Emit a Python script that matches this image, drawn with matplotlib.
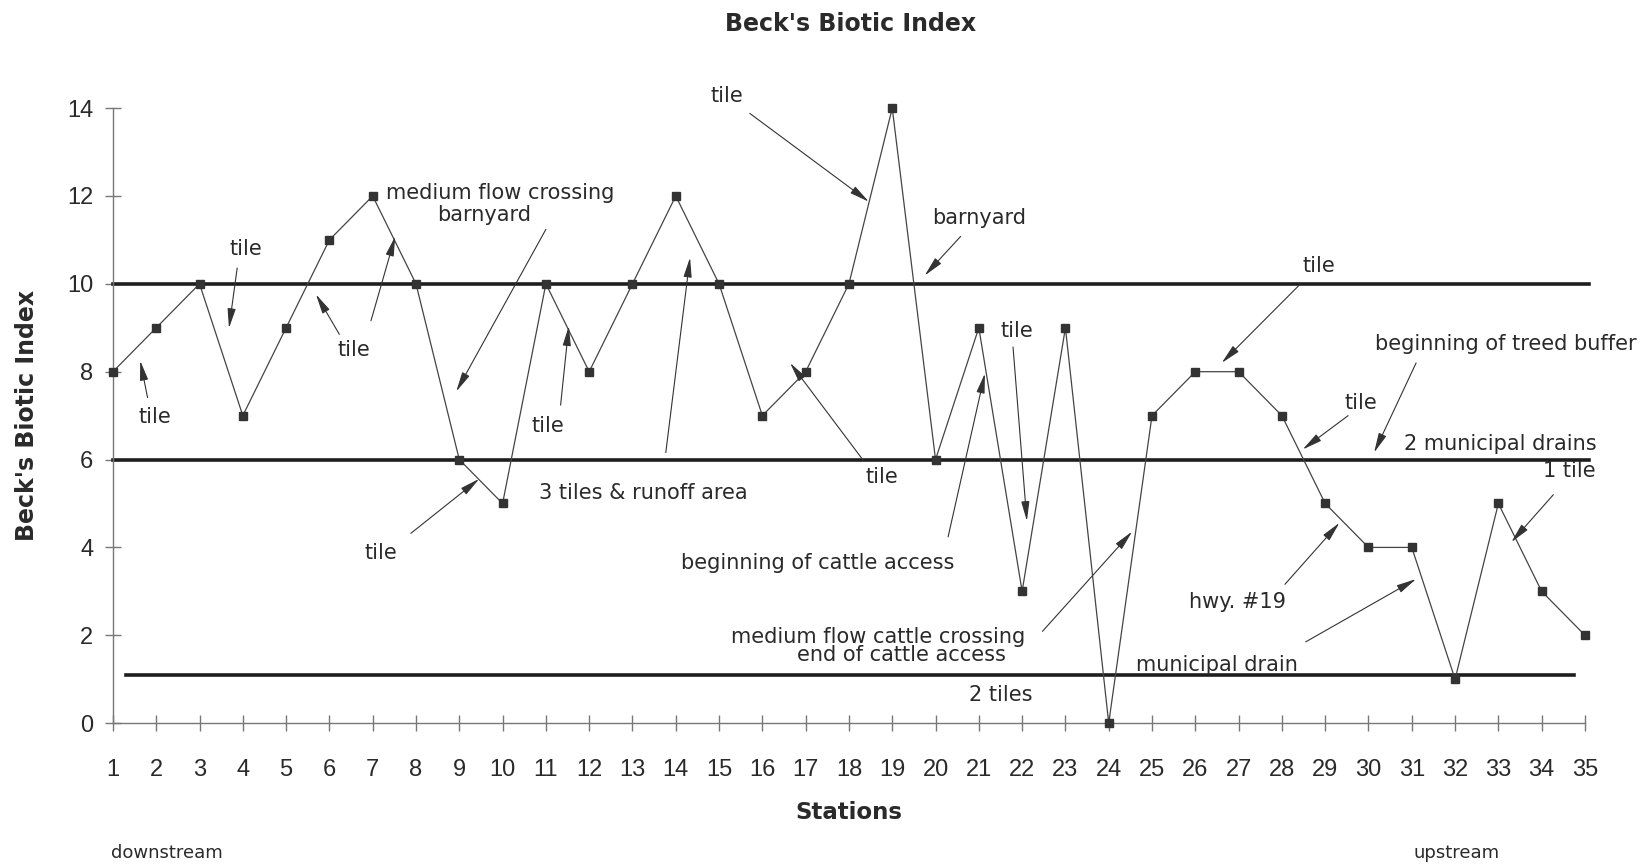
import matplotlib
matplotlib.use("Agg")
import matplotlib.pyplot as plt

# station values
stations = list(range(1, 36))
biotic_index = [8, 9, 10, 7, 9, 11, 12, 10, 6, 5, 10, 8, 10, 12, 10, 7, 8, 10, 14,
                6, 9, 3, 9, 0, 7, 8, 8, 7, 5, 4, 4, 1, 5, 3, 2]

# reference levels drawn as heavy lines: (level, x start, x end)
ref_levels = [10, 6, 1.1]
ref_starts = [1, 1, 1.3]
ref_ends = [35.1, 35.1, 34.75]

# labels placed on the plot: text, x, y, alignment
note_texts = ["tile", "tile", "tile", "medium flow crossing", "barnyard", "tile", "tile",
              "3 tiles & runoff area", "tile", "barnyard", "tile", "tile", "tile",
              "beginning of cattle access", "medium flow cattle crossing",
              "end of cattle access", "2 tiles", "municipal drain", "hwy. #19",
              "beginning of treed buffer", "tile", "2 municipal drains", "1 tile"]
note_x = [1.97, 4.06, 6.57, 7.3, 9.58, 7.2, 11.04, 13.26, 15.18, 21.01, 28.85, 21.87,
          18.75, 17.27, 18.68, 19.22, 21.5, 26.49, 26.97, 33.17, 29.82, 33.05, 34.63]
note_y = [6.98, 10.79, 8.49, 12.06, 11.56, 3.88, 6.76, 5.25, 14.27, 11.51, 10.41, 8.92,
          5.61, 3.64, 1.97, 1.56, 0.65, 1.32, 2.76, 8.63, 7.29, 6.35, 5.73]
note_ha = ["center", "center", "center", "left"] + ["center"] * 19

# arrows: tail -> head
arrow_tail_x = [1.80, 3.87, 6.23, 6.96, 11.0, 7.88, 11.34, 13.77, 15.71, 20.58, 28.43,
                21.79, 20.29, 18.34, 22.47, 28.55, 28.07, 31.1, 29.53, 34.27]
arrow_tail_y = [7.41, 10.36, 8.85, 9.16, 11.24, 4.32, 7.24, 6.16, 13.88, 11.08, 10.0,
                8.56, 4.24, 5.97, 2.09, 1.85, 3.16, 8.2, 7.0, 5.2]
arrow_head_x = [1.63, 3.68, 5.69, 7.52, 8.93, 9.46, 11.53, 14.33, 18.46, 19.75, 26.61,
                22.11, 21.14, 16.64, 24.54, 31.1, 29.33, 30.13, 28.48, 33.3]
arrow_head_y = [8.25, 8.99, 9.76, 11.08, 7.55, 5.56, 9.04, 10.6, 11.87, 10.19, 8.2,
                4.6, 7.96, 8.2, 4.36, 3.28, 4.56, 6.16, 6.23, 4.12]

plt.rcParams["font.family"] = ["DejaVu Sans"]
tick_font = "Liberation Sans"

ink = "#2a2a2a"

fig = plt.figure(figsize=(16.51, 8.65), dpi=100)
ax = fig.add_axes([0.0684, 0.164, 0.8916, 0.711])

for level, x0, x1 in zip(ref_levels, ref_starts, ref_ends):
    ax.plot([x0, x1], [level, level], color="#1e1e1e", lw=2.6, clip_on=False, zorder=2)

ax.plot(stations, biotic_index, color="#444444", lw=0.9, marker="s", markersize=5.5,
        markerfacecolor="#333333", markeredgecolor="#333333", clip_on=False, zorder=3)

for tx, ty, hx, hy in zip(arrow_tail_x, arrow_tail_y, arrow_head_x, arrow_head_y):
    ax.annotate("", xy=(hx, hy), xytext=(tx, ty), annotation_clip=False,
                arrowprops=dict(arrowstyle="-|>,head_length=1.2,head_width=0.25",
                                color="#333333", lw=0.8, shrinkA=0, shrinkB=0))

for label, x, y, ha in zip(note_texts, note_x, note_y, note_ha):
    ax.text(x, y, label, ha=ha, va="center", fontsize=15, color=ink)

ax.set_xlim(1, 35)
ax.set_ylim(0, 14)
ax.set_xticks(stations)
ax.set_yticks(range(0, 15, 2))
ax.spines["top"].set_visible(False)
ax.spines["right"].set_visible(False)
for side in ["left", "bottom"]:
    ax.spines[side].set_color("#777777")
    ax.spines[side].set_linewidth(1.0)
ax.tick_params(direction="inout", length=12, width=1.0, color="#777777",
               labelsize=17, labelcolor=ink)
ax.tick_params(axis="x", pad=20)
ax.tick_params(axis="y", pad=8)
for lab in ax.get_xticklabels() + ax.get_yticklabels():
    lab.set_family(tick_font)

ax.set_xlabel("Stations", fontsize=16.5, fontweight="bold", color=ink, labelpad=14)
ax.set_ylabel("Beck's Biotic Index", fontsize=17, fontweight="bold", color=ink, labelpad=20)
fig.text(0.515, 0.972, "Beck's Biotic Index", ha="center", va="center",
         fontsize=17, fontweight="bold", color=ink)
fig.text(0.067, 0.014, "downstream", ha="left", va="center", fontsize=13, color=ink)
fig.text(0.882, 0.014, "upstream", ha="center", va="center", fontsize=13, color=ink)

fig.savefig("out.png", dpi=100, facecolor="white")
